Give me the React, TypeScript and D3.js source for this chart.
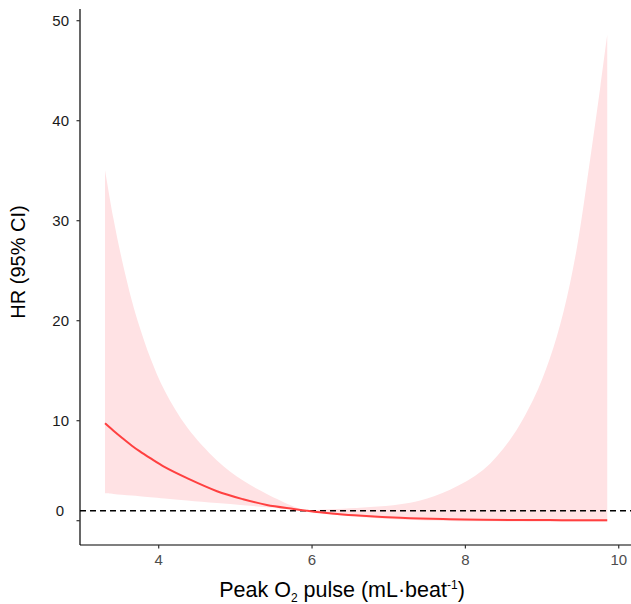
import React from "react";
import * as d3 from "d3";

const xValues = [3.3, 3.41, 3.52, 3.65, 3.75, 3.89, 4.08, 4.37, 4.76, 5.1, 5.41, 5.76, 5.93, 6.1, 6.4, 6.76, 7.15, 7.41, 7.8, 8.23, 8.58, 8.89, 9.1, 9.28, 9.45, 9.63, 9.76, 9.85];
const upperCI = [35.07, 30.2, 26.1, 22.0, 19.4, 16.3, 12.96, 9.34, 6.03, 4.01, 2.68, 1.43, 1.0, 1.1, 1.2, 1.36, 1.65, 2.02, 3.1, 5.07, 8.07, 12.2, 16.2, 20.9, 27.1, 36.3, 43.4, 48.6];
const hrFit = [9.74, 9.0, 8.3, 7.5, 6.95, 6.25, 5.35, 4.25, 2.95, 2.15, 1.57, 1.18, 1.0, 0.84, 0.62, 0.44, 0.3, 0.22, 0.15, 0.1, 0.08, 0.07, 0.06, 0.055, 0.05, 0.05, 0.05, 0.05];
const lowerCI = [2.74, 2.67, 2.59, 2.51, 2.44, 2.35, 2.22, 2.03, 1.77, 1.55, 1.34, 1.11, 1.0, 0.78, 0.52, 0.3, 0.12, 0.05, -0.02, -0.06, -0.08, -0.1, -0.1, -0.1, -0.1, -0.1, -0.1, -0.1];

const xTicks = [4, 6, 8, 10];
const yTicks = [0, 10, 20, 30, 40, 50];
const yTickLabels = ["", "10", "20", "30", "40", "50"];
const refValue = 1;
const refLabel = "0";

const W = 631;
const H = 604;

export default function App() {
  const x = d3.scaleLinear().domain([2.9735, 10.16]).range([80, 631]);
  const y = d3.scaleLinear().domain([-2.43, 51.17]).range([545, 9]);

  const rows = xValues.map((v, i) => ({ x: v, lo: lowerCI[i], hi: upperCI[i], fit: hrFit[i] }));

  const area = d3
    .area<any>()
    .x((d) => x(d.x))
    .y0((d) => y(d.lo))
    .y1((d) => y(d.hi))
    .curve(d3.curveCatmullRom.alpha(0.5));
  const line = d3
    .line<any>()
    .x((d) => x(d.x))
    .y((d) => y(d.fit))
    .curve(d3.curveCatmullRom.alpha(0.5));

  const font = "'Liberation Sans', Arial, sans-serif";

  return (
    <svg
      width={W}
      height={H}
      style={{ position: "absolute", left: 0, top: 0, background: "#fff" }}
      fontFamily={font}
    >
      <path d={area(rows) || ""} fill="#ffe2e4" stroke="none" />
      <line
        x1={80}
        x2={631}
        y1={y(refValue)}
        y2={y(refValue)}
        stroke="#000"
        strokeWidth={1.4}
        strokeDasharray="6,4"
      />
      <path d={line(rows) || ""} fill="none" stroke="#ff4040" strokeWidth={2} />

      <line x1={80} x2={80} y1={9} y2={545} stroke="#000" strokeWidth={1.2} />
      <line x1={80} x2={631} y1={545} y2={545} stroke="#000" strokeWidth={1.2} />

      {yTicks.map((t, i) => (
        <g key={"y" + t}>
          <line x1={76.5} x2={80} y1={y(t)} y2={y(t)} stroke="#333" strokeWidth={1.2} />
          {yTickLabels[i] && (
            <text x={69} y={y(t)} dy="0.36em" textAnchor="end" fontSize={15} fill="#1a1a1a">
              {yTickLabels[i]}
            </text>
          )}
        </g>
      ))}
      <text x={64} y={y(refValue)} dy="0.36em" textAnchor="end" fontSize={15} fill="#1a1a1a">
        {refLabel}
      </text>

      {xTicks.map((t) => (
        <g key={"x" + t}>
          <line x1={x(t)} x2={x(t)} y1={545} y2={548.5} stroke="#333" strokeWidth={1.2} />
          <text x={x(t)} y={565} textAnchor="middle" fontSize={15} fill="#4d4d4d">
            {t}
          </text>
        </g>
      ))}

      <text
        transform={`translate(25, 262) rotate(-90)`}
        textAnchor="middle"
        fontSize={20}
        fill="#000"
      >
        HR (95% CI)
      </text>

      <text x={342} y={597} textAnchor="middle" fontSize={21.5} fill="#000">
        Peak O
        <tspan fontSize={12} dy={5}>2</tspan>
        <tspan dy={-5}> pulse (mL·beat</tspan>
        <tspan fontSize={12} dy={-8}>-1</tspan>
        <tspan dy={8}>)</tspan>
      </text>
    </svg>
  );
}
